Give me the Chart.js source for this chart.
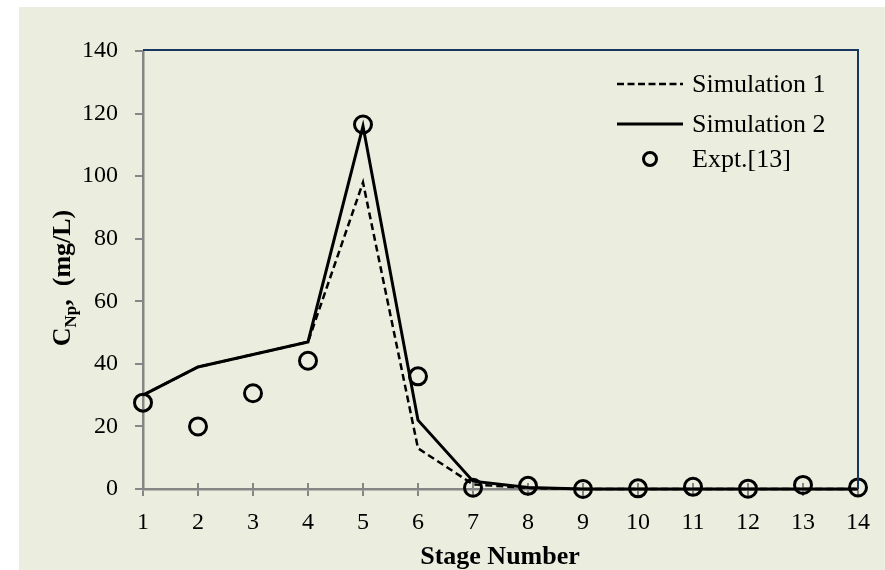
<!DOCTYPE html>
<html>
<head>
<meta charset="utf-8">
<script src="https://cdn.jsdelivr.net/npm/chart.js@4/dist/chart.umd.min.js"></script>
<style>
  html, body { margin: 0; padding: 0; background: #ffffff; }
  #wrap { width: 885px; height: 570px; position: relative; }
</style>
</head>
<body>
<div id="wrap"><canvas id="chart" width="885" height="570"></canvas></div>
<script>
// ===================== Data =====================
const stages = ['1', '2', '3', '4', '5', '6', '7', '8', '9', '10', '11', '12', '13', '14'];
const simulation1 = [30, 39, 43, 47, 98, 13, 1.5, 0.3, 0, 0, 0, 0, 0, 0];
const simulation2 = [30, 39, 43, 47, 116, 22, 2.5, 0.5, 0, 0, 0, 0, 0, 0];
const experiment = [27.6, 20, 30.6, 41, 116.5, 36, 0.4, 1, 0, 0.2, 0.7, 0.1, 1.3, 0.5];
const yTicks = { min: 0, max: 140, step: 20 };

const SERIF = '"Liberation Serif", "Times New Roman", serif';
const BG = '#ebeedf';
const NAVY = '#17375e';
const AXIS_GRAY = '#868686';

// ===================== Plugins =====================
const backgroundPlugin = {
  id: 'bg',
  beforeDraw(chart) {
    const ctx = chart.ctx;
    ctx.save();
    ctx.fillStyle = BG;
    ctx.fillRect(19, 7, chart.width - 19, chart.height - 7);
    ctx.restore();
  },
};

// top + right frame (navy), inner x ticks, axis titles, custom legend
const decorPlugin = {
  id: 'decor',
  beforeDatasetsDraw(chart) {
    const ctx = chart.ctx;
    const a = chart.chartArea;
    const xs = chart.scales.x;
    ctx.save();
    ctx.strokeStyle = AXIS_GRAY;
    ctx.lineWidth = 2;
    stages.forEach((_, i) => {
      const px = xs.getPixelForTick(i);
      ctx.beginPath(); ctx.moveTo(px, a.bottom); ctx.lineTo(px, a.bottom - 6); ctx.stroke();
    });
    ctx.restore();
  },
  afterDraw(chart) {
    const ctx = chart.ctx;
    const a = chart.chartArea;
    ctx.save();

    ctx.strokeStyle = NAVY;
    ctx.lineWidth = 2;
    ctx.beginPath();
    ctx.moveTo(a.left, a.top - 1);
    ctx.lineTo(a.right, a.top - 1);
    ctx.lineTo(a.right, a.bottom);
    ctx.stroke();

    // x title
    ctx.fillStyle = '#000';
    ctx.font = 'bold 26px ' + SERIF;
    ctx.textAlign = 'center';
    ctx.textBaseline = 'middle';
    ctx.fillText('Stage Number', 500, 557);

    // y title with subscript
    ctx.translate(61, 278);
    ctx.rotate(-Math.PI / 2);
    const big = 'bold 26px ' + SERIF;
    const small = 'bold 17px ' + SERIF;
    const parts = [
      { t: 'C', f: big, dy: 0 },
      { t: 'Np', f: small, dy: 6 },
      { t: ',  (mg/L)', f: big, dy: 0 },
    ];
    let total = 0;
    parts.forEach(p => { ctx.font = p.f; total += ctx.measureText(p.t).width; });
    let x = -total / 2;
    ctx.textAlign = 'left';
    ctx.textBaseline = 'alphabetic';
    parts.forEach(p => {
      ctx.font = p.f;
      ctx.fillText(p.t, x, 9 + p.dy);
      x += ctx.measureText(p.t).width;
    });
    ctx.setTransform(1, 0, 0, 1, 0, 0);

    // legend
    ctx.font = '26px ' + SERIF;
    ctx.textAlign = 'left';
    ctx.textBaseline = 'middle';
    ctx.strokeStyle = '#000';
    ctx.lineWidth = 2.5;
    ctx.setLineDash([7, 3.5]);
    ctx.beginPath(); ctx.moveTo(617, 84); ctx.lineTo(683, 84); ctx.stroke();
    ctx.setLineDash([]);
    ctx.lineWidth = 3;
    ctx.beginPath(); ctx.moveTo(617, 124); ctx.lineTo(683, 124); ctx.stroke();
    ctx.lineWidth = 3;
    ctx.beginPath(); ctx.arc(650, 159, 6.5, 0, Math.PI * 2); ctx.stroke();
    ctx.fillText('Simulation 1', 692, 85);
    ctx.fillText('Simulation 2', 692, 125);
    ctx.fillText('Expt.[13]', 692, 160);

    ctx.restore();
  },
};

// ===================== Chart =====================
new Chart(document.getElementById('chart'), {
  type: 'line',
  data: {
    labels: stages,
    datasets: [
      {
        label: 'Expt.[13]',
        data: experiment,
        showLine: false,
        pointRadius: 8.5,
        pointHoverRadius: 8.5,
        pointBorderWidth: 3,
        pointBorderColor: '#000',
        pointBackgroundColor: 'rgba(0,0,0,0)',
        clip: false,
      },
      {
        label: 'Simulation 1',
        data: simulation1,
        borderColor: '#000',
        borderWidth: 2.5,
        borderDash: [7, 4],
        pointRadius: 0,
        tension: 0,
        fill: false,
        clip: false,
      },
      {
        label: 'Simulation 2',
        data: simulation2,
        borderColor: '#000',
        borderWidth: 3,
        pointRadius: 0,
        tension: 0,
        fill: false,
        clip: false,
      },
    ],
  },
  options: {
    responsive: false,
    animation: false,
    layout: { padding: { left: 0, top: 51, right: 27, bottom: 0 } },
    plugins: { legend: { display: false }, tooltip: { enabled: false } },
    scales: {
      x: {
        type: 'category',
        offset: false,
        grid: { display: true, drawOnChartArea: false, drawTicks: true, tickLength: 7, color: AXIS_GRAY, lineWidth: 2 },
        border: { display: true, color: AXIS_GRAY, width: 2.5 },
        ticks: { color: '#000', font: { family: SERIF, size: 24 }, padding: 12, maxRotation: 0, autoSkip: false },
        afterFit: s => { s.height = 81; },
      },
      y: {
        min: yTicks.min,
        max: yTicks.max,
        grid: { display: true, drawOnChartArea: false, drawTicks: true, tickLength: 8, color: AXIS_GRAY, lineWidth: 2 },
        border: { display: true, color: AXIS_GRAY, width: 2.5 },
        ticks: { stepSize: yTicks.step, color: '#000', font: { family: SERIF, size: 24 }, padding: 17 },
        afterFit: s => { s.width = 143; },
      },
    },
  },
  plugins: [backgroundPlugin, decorPlugin],
});
</script>
</body>
</html>
